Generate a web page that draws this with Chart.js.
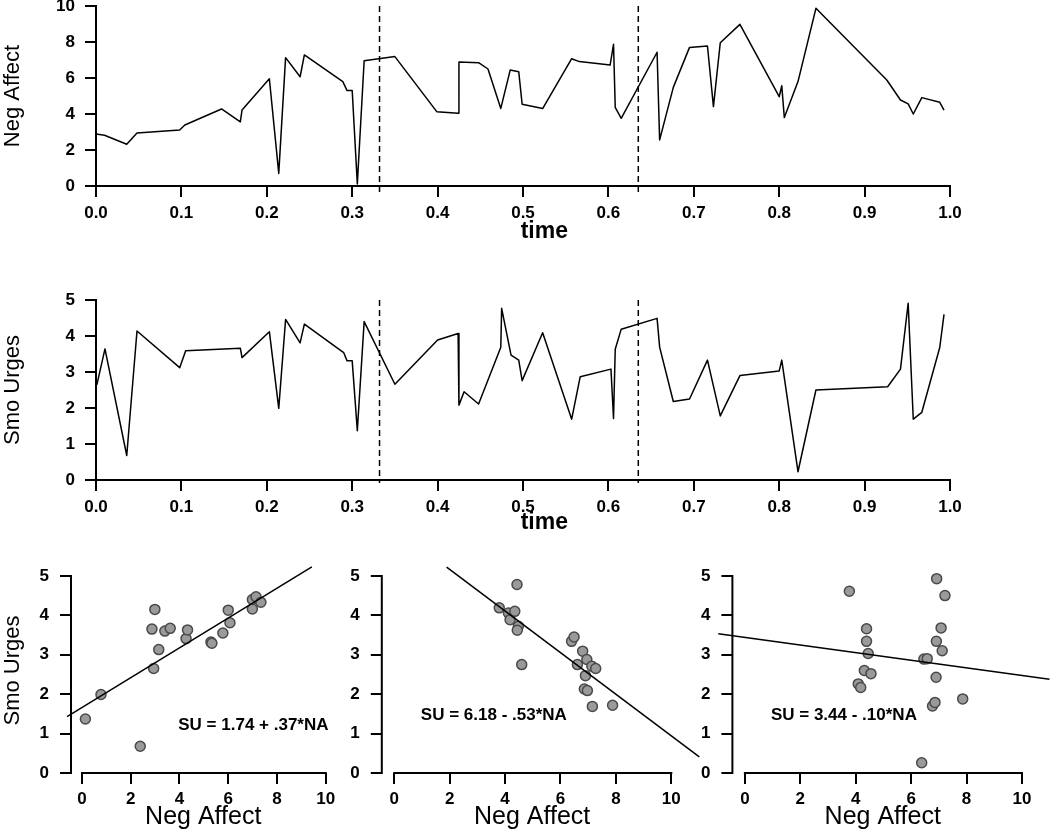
<!DOCTYPE html>
<html>
<head>
<meta charset="utf-8">
<script src="https://cdn.jsdelivr.net/npm/chart.js@4.4.1/dist/chart.umd.min.js"></script>
<style>
    html, body { margin: 0; padding: 0; background: #fff; }
    #wrap { position: relative; width: 1050px; height: 833px; overflow: hidden; }
    #wrap canvas { position: absolute; }
</style>
</head>
<body>
<div id="wrap">
    <canvas id="naChart" width="1050" height="250" style="left:0;top:0"></canvas>
    <canvas id="suChart" width="1050" height="290" style="left:0;top:270px"></canvas>
    <canvas id="p1Chart" width="360" height="293" style="left:0;top:540px"></canvas>
    <canvas id="p2Chart" width="380" height="293" style="left:330px;top:540px"></canvas>
    <canvas id="p3Chart" width="360" height="293" style="left:690px;top:540px"></canvas>
</div>
<script>
// time series
const naTime = [0.000, 0.010, 0.036, 0.048, 0.098, 0.104, 0.147, 0.169, 0.171, 0.203,
    0.214, 0.222, 0.239, 0.244, 0.289, 0.294, 0.300, 0.306, 0.314, 0.350,
    0.399, 0.424, 0.425, 0.448, 0.459, 0.474, 0.485, 0.495, 0.499, 0.523,
    0.557, 0.566, 0.602, 0.606, 0.608, 0.615, 0.657, 0.660, 0.676, 0.695,
    0.716, 0.723, 0.731, 0.754, 0.800, 0.803, 0.806, 0.822, 0.843, 0.926,
    0.942, 0.951, 0.957, 0.967, 0.988, 0.993];
const naValues = [2.89, 2.82, 2.32, 2.94, 3.11, 3.39, 4.28, 3.56, 4.22, 5.96,
    0.70, 7.13, 6.07, 7.28, 5.80, 5.30, 5.30, 0.11, 6.96, 7.19,
    4.13, 4.04, 6.89, 6.85, 6.50, 4.31, 6.44, 6.35, 4.54, 4.30,
    7.07, 6.91, 6.72, 7.87, 4.37, 3.76, 7.43, 2.56, 5.48, 7.70,
    7.78, 4.41, 7.96, 8.98, 4.96, 5.57, 3.80, 5.80, 9.87, 5.89,
    4.78, 4.56, 4.00, 4.91, 4.65, 4.22];

const suTime = [0.001, 0.0105, 0.036, 0.048, 0.098, 0.105, 0.169, 0.171, 0.203, 0.214,
    0.222, 0.239, 0.244, 0.290, 0.294, 0.300, 0.306, 0.314, 0.350, 0.400,
    0.424, 0.425, 0.431, 0.448, 0.474, 0.475, 0.486, 0.495, 0.499, 0.523,
    0.557, 0.567, 0.603, 0.606, 0.608, 0.615, 0.657, 0.660, 0.676, 0.695,
    0.716, 0.731, 0.754, 0.800, 0.803, 0.822, 0.843, 0.927, 0.942, 0.951,
    0.957, 0.967, 0.988, 0.993];
const suValues = [2.64, 3.64, 0.68, 4.14, 3.12, 3.59, 3.66, 3.40, 4.12, 1.99,
    4.46, 3.81, 4.33, 3.54, 3.31, 3.31, 1.37, 4.40, 2.66, 3.89,
    4.07, 2.08, 2.45, 2.11, 3.69, 4.77, 3.47, 3.33, 2.76, 4.09,
    1.69, 2.87, 3.08, 1.71, 3.63, 4.19, 4.49, 3.69, 2.18, 2.25,
    3.33, 1.78, 2.90, 3.03, 3.33, 0.23, 2.50, 2.59, 3.08, 4.91,
    1.69, 1.88, 3.68, 4.60];

const phaseBreaks = [0.332, 0.635];

// scatter panels (Neg Affect vs Smo Urges), one per phase
const p1NA = [0.14, 0.78, 2.39, 2.87, 2.94, 2.99, 3.15, 3.40, 3.62, 4.27, 4.33, 5.29, 5.33, 5.78, 6.00, 6.07, 6.99, 6.99, 7.14, 7.34];
const p1SU = [1.37, 1.99, 0.68, 3.65, 2.65, 4.15, 3.13, 3.60, 3.67, 3.41, 3.63, 3.32, 3.29, 3.55, 4.13, 3.81, 4.16, 4.40, 4.47, 4.33];
const p2NA = [3.79, 4.12, 4.18, 4.35, 4.43, 4.48, 4.44, 4.60, 6.40, 6.49, 6.61, 6.80, 6.95, 6.90, 6.86, 6.97, 7.13, 7.27, 7.15, 7.88];
const p2SU = [4.19, 4.06, 3.89, 4.10, 4.78, 3.72, 3.62, 2.75, 3.34, 3.45, 2.75, 3.09, 2.88, 2.47, 2.13, 2.09, 2.71, 2.65, 1.69, 1.72];
const p3NA = [3.77, 4.39, 4.39, 4.45, 4.31, 4.55, 4.09, 4.18, 6.38, 6.46, 6.58, 6.77, 6.86, 6.90, 6.91, 6.92, 7.12, 7.08, 7.22, 7.86];
const p3SU = [4.61, 3.66, 3.34, 3.03, 2.60, 2.52, 2.26, 2.17, 0.26, 2.89, 2.90, 1.70, 1.79, 2.43, 3.34, 4.93, 3.10, 3.68, 4.50, 1.88];

// fitted lines: end points as drawn
const fit1X = [-0.61, 9.43], fit1Y = [1.43, 5.23];
const fit2X = [1.89, 11.01], fit2Y = [5.22, 0.41];
const fit3X = [-0.96, 10.99], fit3Y = [3.53, 2.38];
const fitLabels = ['SU = 1.74 + .37*NA', 'SU = 6.18 - .53*NA', 'SU = 3.44 - .10*NA'];

// tick labels
const timeTicks = [0.0, 0.1, 0.2, 0.3, 0.4, 0.5, 0.6, 0.7, 0.8, 0.9, 1.0];
const naTicks = [0, 2, 4, 6, 8, 10];
const suTicks = [0, 1, 2, 3, 4, 5];

Chart.defaults.font.family = "'Liberation Sans', Arial, Helvetica, sans-serif";
Chart.defaults.color = '#000';

const tickFont = { size: 17, weight: 'bold' };

// R-like axes: the axis line runs only from the first to the last tick
const rStyle = {
    id: 'rStyle',
    afterDatasetsDraw(chart, args, opts) {
        const { ctx, chartArea: area, scales: { x, y } } = chart;
        ctx.save();
        ctx.strokeStyle = '#000';
        ctx.lineWidth = 2;
        ctx.lineCap = 'square';
        ctx.beginPath();
        ctx.moveTo(x.getPixelForValue(x.ticks[0].value), area.bottom);
        ctx.lineTo(x.getPixelForValue(x.ticks[x.ticks.length - 1].value), area.bottom);
        ctx.moveTo(area.left, y.getPixelForValue(y.ticks[0].value));
        ctx.lineTo(area.left, y.getPixelForValue(y.ticks[y.ticks.length - 1].value));
        ctx.stroke();

        ctx.lineWidth = 1.5;
        ctx.lineCap = 'butt';
        ctx.setLineDash([6, 4]);
        (opts.breaks || []).forEach(b => {
            const px = x.getPixelForValue(b);
            ctx.beginPath();
            ctx.moveTo(px, area.top);
            ctx.lineTo(px, area.bottom + (opts.breakOver || 0));
            ctx.stroke();
        });
        ctx.setLineDash([]);

        (opts.notes || []).forEach(n => {
            ctx.font = n.font;
            ctx.fillStyle = '#000';
            ctx.textAlign = n.align || 'left';
            ctx.textBaseline = 'middle';
            const py = n.below !== undefined ? area.bottom + n.below : y.getPixelForValue(n.y);
            ctx.fillText(n.text, x.getPixelForValue(n.x), py);
        });
        ctx.restore();
    }
};

function axis(min, max, tickValues, fmt, size, tickPad, isX, title) {
    return {
        type: 'linear',
        min: min,
        max: max,
        afterBuildTicks: s => { s.ticks = tickValues.map(v => ({ value: v })); },
        afterFit: s => {
            if (isX) s.height = size; else s.width = size;
            s.paddingLeft = 0; s.paddingRight = 0; s.paddingTop = 0; s.paddingBottom = 0;
        },
        ticks: { font: tickFont, color: '#000', padding: tickPad, maxRotation: 0, autoSkip: false, callback: fmt },
        grid: { drawOnChartArea: false, drawTicks: true, tickLength: 11, color: '#000', lineWidth: 2 },
        border: { display: false },
        title: title || { display: false }
    };
}

const baseOptions = {
    responsive: false,
    animation: false,
    devicePixelRatio: 1,
    events: [],
    plugins: { legend: { display: false }, tooltip: { enabled: false } }
};

function timeChart(id, times, values, yMax, yTicks, yTitle, pad, xHeight, timeBelow, breakOver) {
    return new Chart(document.getElementById(id), {
        type: 'line',
        data: {
            datasets: [{
                data: times.map((t, i) => ({ x: t, y: values[i] })),
                borderColor: '#000',
                borderWidth: 1.5,
                borderJoinStyle: 'round',
                tension: 0,
                pointRadius: 0,
                fill: false
            }]
        },
        options: {
            ...baseOptions,
            layout: { padding: pad },
            scales: {
                x: axis(0, 1, timeTicks, v => v.toFixed(1), xHeight, 6, true),
                y: axis(0, yMax, yTicks, v => String(v), 96, 10, false, {
                    display: true, text: yTitle, color: '#000',
                    font: { size: 22, weight: 'normal' }, padding: { top: 0, bottom: 0 }
                })
            },
            plugins: {
                ...baseOptions.plugins,
                rStyle: {
                    breaks: phaseBreaks,
                    breakOver: breakOver,
                    notes: [{ text: 'time', x: 0.525, below: timeBelow, align: 'center', font: "bold 23px 'Liberation Sans', Arial, sans-serif" }]
                }
            }
        },
        plugins: [rStyle]
    });
}

function scatterChart(id, na, su, fitX, fitY, label, labelAt, yWidth, padRight, showYTitle) {
    return new Chart(document.getElementById(id), {
        type: 'scatter',
        data: {
            datasets: [{
                data: fitX.map((v, i) => ({ x: v, y: fitY[i] })),
                showLine: true,
                borderColor: '#000',
                borderWidth: 1.5,
                pointRadius: 0,
                clip: false
            }, {
                data: na.map((v, i) => ({ x: v, y: su[i] })),
                pointRadius: 5,
                pointBackgroundColor: '#9a9a9a',
                pointBorderColor: '#4a4a4a',
                pointBorderWidth: 1.5
            }]
        },
        options: {
            ...baseOptions,
            layout: { padding: { top: 28, left: 0, right: padRight, bottom: 0 } },
            scales: {
                x: axis(-0.45, 10.4, naTicks, v => String(v), 60, 5, true, {
                    display: true, text: 'Neg Affect', color: '#000',
                    font: { size: 25, weight: 'normal' }, padding: { top: 0, bottom: 1 }
                }),
                y: axis(0, 5.2, suTicks, v => String(v), yWidth, 11, false, {
                    display: showYTitle, text: 'Smo Urges', color: '#000',
                    font: { size: 22, weight: 'normal' }, padding: { top: 0, bottom: 0 }
                })
            },
            plugins: {
                ...baseOptions.plugins,
                rStyle: {
                    notes: [{ text: label, x: labelAt[0], y: labelAt[1], font: "bold 17px 'Liberation Sans', Arial, sans-serif" }]
                }
            }
        },
        plugins: [rStyle]
    });
}

timeChart('naChart', naTime, naValues, 10, naTicks, 'Neg Affect', { top: 6, left: 0, right: 100, bottom: 0 }, 64, 46, 7);
timeChart('suChart', suTime, suValues, 5, suTicks, 'Smo Urges', { top: 30, left: 0, right: 100, bottom: 0 }, 80, 43, 3);

scatterChart('p1Chart', p1NA, p1SU, fit1X, fit1Y, fitLabels[0], [3.95, 1.22], 71, 24.5, true);
scatterChart('p2Chart', p2NA, p2SU, fit2X, fit2Y, fitLabels[1], [0.96, 1.47], 51.8, 27.6, false);
scatterChart('p3Chart', p3NA, p3SU, fit3X, fit3Y, fitLabels[2], [0.94, 1.47], 42.4, 16.9, false);
</script>
</body>
</html>
